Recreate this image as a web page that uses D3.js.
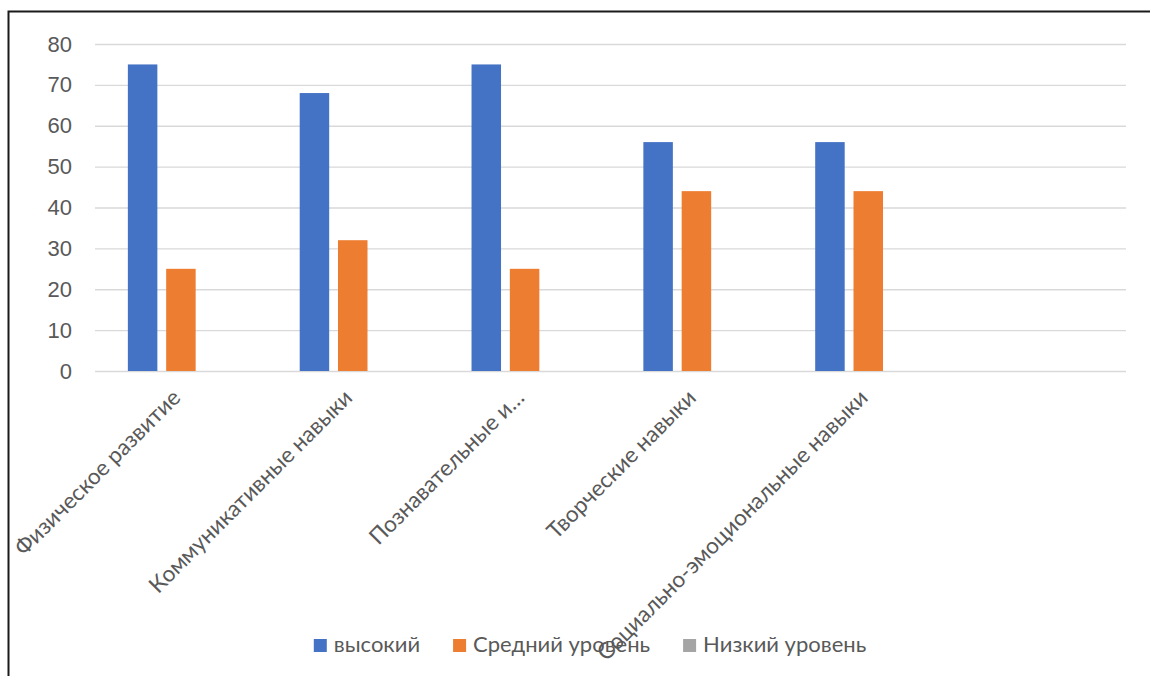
<!DOCTYPE html>
<html>
<head>
<meta charset="utf-8">
<script src="https://cdn.jsdelivr.net/npm/d3@7.9.0/dist/d3.min.js"></script>
<style>
    html, body { margin: 0; padding: 0; background: #fff; overflow: hidden; }
    svg { display: block; font-family: Lato, 'Open Sans', sans-serif; }
</style>
</head>
<body>
<div id="chart"></div>
<script>
// categories (the last slot is empty in the source chart)
const categories = [
    'Физическое развитие',
    'Коммуникативные навыки',
    'Познавательные и…',
    'Творческие навыки',
    'Социально-эмоциональные навыки',
    ''
];
const seriesNames = ['высокий', 'Средний уровень', 'Низкий уровень'];
const seriesColors = ['#4472C4', '#ED7D31', '#A5A5A5'];

const highValues = [75, 68, 75, 56, 56];
const midValues = [25, 32, 25, 44, 44];
const lowValues = [0, 0, 0, 0, 0];

const yTicks = [0, 10, 20, 30, 40, 50, 60, 70, 80];

const width = 1150;
const height = 676;
const plot = { left: 95, right: 1126, top: 44, bottom: 371 };

const svg = d3.select('#chart')
    .append('svg')
    .attr('width', width)
    .attr('height', height);

// chart frame (cropped at the right / bottom in the source)
svg.append('rect')
    .attr('x', 8.5)
    .attr('y', 11.5)
    .attr('width', 1300)
    .attr('height', 900)
    .attr('fill', 'none')
    .attr('stroke', '#1a1a1a')
    .attr('stroke-width', 2);

const xScale = d3.scaleBand()
    .domain(categories)
    .range([plot.left, plot.right]);

const xSub = d3.scaleBand()
    .domain(seriesNames)
    .range([0, xScale.bandwidth()])
    .paddingInner(0.23)
    .paddingOuter(0.858);

const yScale = d3.scaleLinear()
    .domain([0, 80])
    .range([plot.bottom, plot.top]);

// gridlines + y labels
const yAxis = svg.append('g')
    .attr('class', 'y-axis')
    .attr('transform', `translate(${plot.left}, 0)`)
    .call(
        d3.axisLeft(yScale)
            .tickValues(yTicks)
            .tickSize(-(plot.right - plot.left))
            .tickPadding(23)
    );

yAxis.select('.domain').remove();
yAxis.selectAll('.tick line')
    .attr('stroke', '#d9d9d9')
    .attr('stroke-width', 1.4);
yAxis.selectAll('.tick text')
    .attr('fill', '#595959')
    .style('font-size', '22px');

const seriesValues = [highValues, midValues, lowValues];

const rows = [];
seriesValues.forEach((vals, si) => {
    vals.forEach((v, ci) => {
        rows.push({ cat: categories[ci], series: seriesNames[si], color: seriesColors[si], value: v });
    });
});

svg.append('g')
    .attr('class', 'bars')
    .selectAll('rect')
    .data(rows.filter((d) => d.value > 0))
    .join('rect')
    .attr('x', (d) => xScale(d.cat) + xSub(d.series))
    .attr('y', (d) => yScale(d.value))
    .attr('width', xSub.bandwidth())
    .attr('height', (d) => yScale(0) - yScale(d.value))
    .attr('fill', (d) => d.color);

// rotated category labels
svg.append('g')
    .attr('class', 'x-labels')
    .selectAll('text')
    .data(categories.filter((c) => c !== ''))
    .join('text')
    .attr('transform', (d) => `translate(${xScale(d) + xScale.bandwidth() / 2 + 1}, 399) rotate(-45)`)
    .attr('text-anchor', 'end')
    .attr('fill', '#595959')
    .style('font-size', '22.5px')
    .text((d) => d);

// legend
const legend = svg.append('g').attr('class', 'legend');
const swatch = 13;
const swatchGap = 7;
const itemGap = 33;

const items = legend.selectAll('g')
    .data(seriesNames)
    .join('g');

items.append('rect')
    .attr('width', swatch)
    .attr('height', swatch)
    .attr('y', -13)
    .attr('fill', (d, i) => seriesColors[i]);

items.append('text')
    .attr('x', swatch + swatchGap)
    .attr('y', 0)
    .attr('fill', '#595959')
    .style('font-size', '22px')
    .text((d) => d);

let cursor = 0;
items.each(function () {
    const w = swatch + swatchGap + d3.select(this).select('text').node().getComputedTextLength();
    d3.select(this).attr('transform', `translate(${cursor}, 0)`);
    cursor += w + itemGap;
});
const legendWidth = cursor - itemGap;
legend.attr('transform', `translate(${590 - legendWidth / 2}, 652)`);
</script>
</body>
</html>
